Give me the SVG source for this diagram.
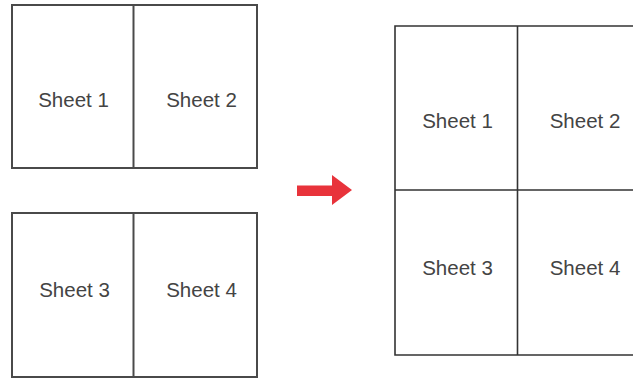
<svg xmlns="http://www.w3.org/2000/svg" width="633" height="379" viewBox="0 0 633 379">
<style>
.box{fill:#fff;stroke:#4a4a4a;stroke-width:2}
.grid{fill:none;stroke:#333;stroke-width:1.6}
.lbl{font-family:"Liberation Sans",Arial,sans-serif;font-size:20.5px;fill:#444;text-anchor:middle}
</style>
<rect width="633" height="379" fill="#fff"/>
<g id="left-top">
<rect class="box" x="12" y="5" width="245" height="163"/>
<line class="box" x1="133.5" y1="5" x2="133.5" y2="168"/>
<text class="lbl" x="73.5" y="107">Sheet 1</text>
<text class="lbl" x="201.5" y="107">Sheet 2</text>
</g>
<g id="left-bottom">
<rect class="box" x="12" y="213" width="245" height="164"/>
<line class="box" x1="133.5" y1="213" x2="133.5" y2="377"/>
<text class="lbl" x="74.5" y="297">Sheet 3</text>
<text class="lbl" x="201.5" y="297">Sheet 4</text>
</g>
<g id="connectors">
<polygon points="297,185.5 332,185.5 332,175 352,190 332,205 332,196 297,196" fill="#e8333b"/>
</g>
<g id="right-grid">
<path class="grid" d="M634,26 H395 V355 H634 M395,190 H634 M517.5,26 V355"/>
<text class="lbl" x="457.5" y="128">Sheet 1</text>
<text class="lbl" x="585" y="128">Sheet 2</text>
<text class="lbl" x="457.5" y="275">Sheet 3</text>
<text class="lbl" x="585" y="275">Sheet 4</text>
</g>
</svg>
